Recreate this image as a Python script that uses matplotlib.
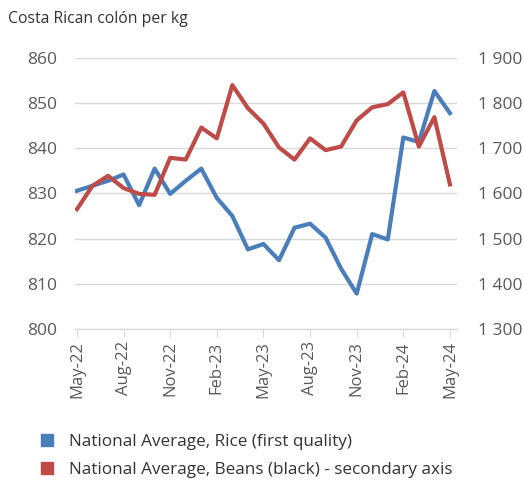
import matplotlib.pyplot as plt
from matplotlib.lines import Line2D
from matplotlib.ticker import FuncFormatter

months = ["May-22", "Jun-22", "Jul-22", "Aug-22", "Sep-22", "Oct-22", "Nov-22", "Dec-22",
          "Jan-23", "Feb-23", "Mar-23", "Apr-23", "May-23", "Jun-23", "Jul-23", "Aug-23",
          "Sep-23", "Oct-23", "Nov-23", "Dec-23", "Jan-24", "Feb-24", "Mar-24", "Apr-24",
          "May-24"]

rice = [830.6, 831.7, 832.8, 834.2, 827.4, 835.5, 829.9, 832.8, 835.5, 829.0, 825.0,
        817.6, 818.8, 815.2, 822.4, 823.3, 820.2, 813.3, 807.8, 821.0, 819.8, 842.4,
        841.4, 852.7, 847.8]

beans = [1565, 1617, 1639, 1612, 1599, 1597, 1679, 1675, 1746, 1722, 1840, 1789, 1755,
         1702, 1675, 1722, 1696, 1704, 1762, 1791, 1798, 1824, 1704, 1769, 1620]

rice_label = "National Average, Rice (first quality)"
beans_label = "National Average, Beans (black) - secondary axis"

blue = "#4A7EBB"
red = "#BE4B48"
grey_txt = "#595959"
grid_c = "#D9D9D9"

plt.rcParams["font.family"] = ["Open Sans", "DejaVu Sans"]

fig = plt.figure(figsize=(5.24, 4.8), dpi=100)
ax = fig.add_axes([0.143, 0.315, 0.729, 0.564])
ax2 = ax.twinx()

x = list(range(len(months)))
ax.plot(x, rice, color=blue, lw=3.0, solid_joinstyle="round", zorder=3)
ax2.plot(x, beans, color=red, lw=3.0, solid_joinstyle="round", zorder=3)

ax.set_ylim(800, 860)
ax.set_yticks(range(800, 861, 10))
ax2.set_ylim(1300, 1900)
ax2.set_yticks(range(1300, 1901, 100))
ax2.yaxis.set_major_formatter(FuncFormatter(lambda v, p: f"{int(v):,}".replace(",", " ")))

ax.set_xlim(-0.13, 24.45)
ax.set_xticks(x[::3])
ax.set_xticklabels(months[::3], rotation=90)

ax.grid(axis="y", color=grid_c, lw=1)
ax.set_axisbelow(True)
for a in (ax, ax2):
    for s in ("top", "left", "right"):
        a.spines[s].set_visible(False)
    a.spines["bottom"].set_color(grid_c)
ax.tick_params(axis="y", length=0, labelsize=12.5, labelcolor=grey_txt, pad=13)
ax2.tick_params(axis="y", length=0, labelsize=12.5, labelcolor=grey_txt, pad=15)
ax.tick_params(axis="x", length=6, color=grid_c, labelsize=12, labelcolor=grey_txt, pad=3)

fig.text(0.015, 0.96, "Costa Rican colón per kg", fontsize=11.3, color="#333333", va="center")

handles = [Line2D([], [], ls="none", marker="s", ms=8, color=blue),
           Line2D([], [], ls="none", marker="s", ms=8, color=red)]
fig.legend(handles, [rice_label, beans_label], loc="upper left",
           bbox_to_anchor=(0.05, 0.103), frameon=False, fontsize=12.3,
           handletextpad=0.3, labelspacing=0.68, labelcolor="#333333",
           borderaxespad=0, borderpad=0.2)

fig.savefig("out.png", dpi=100)
